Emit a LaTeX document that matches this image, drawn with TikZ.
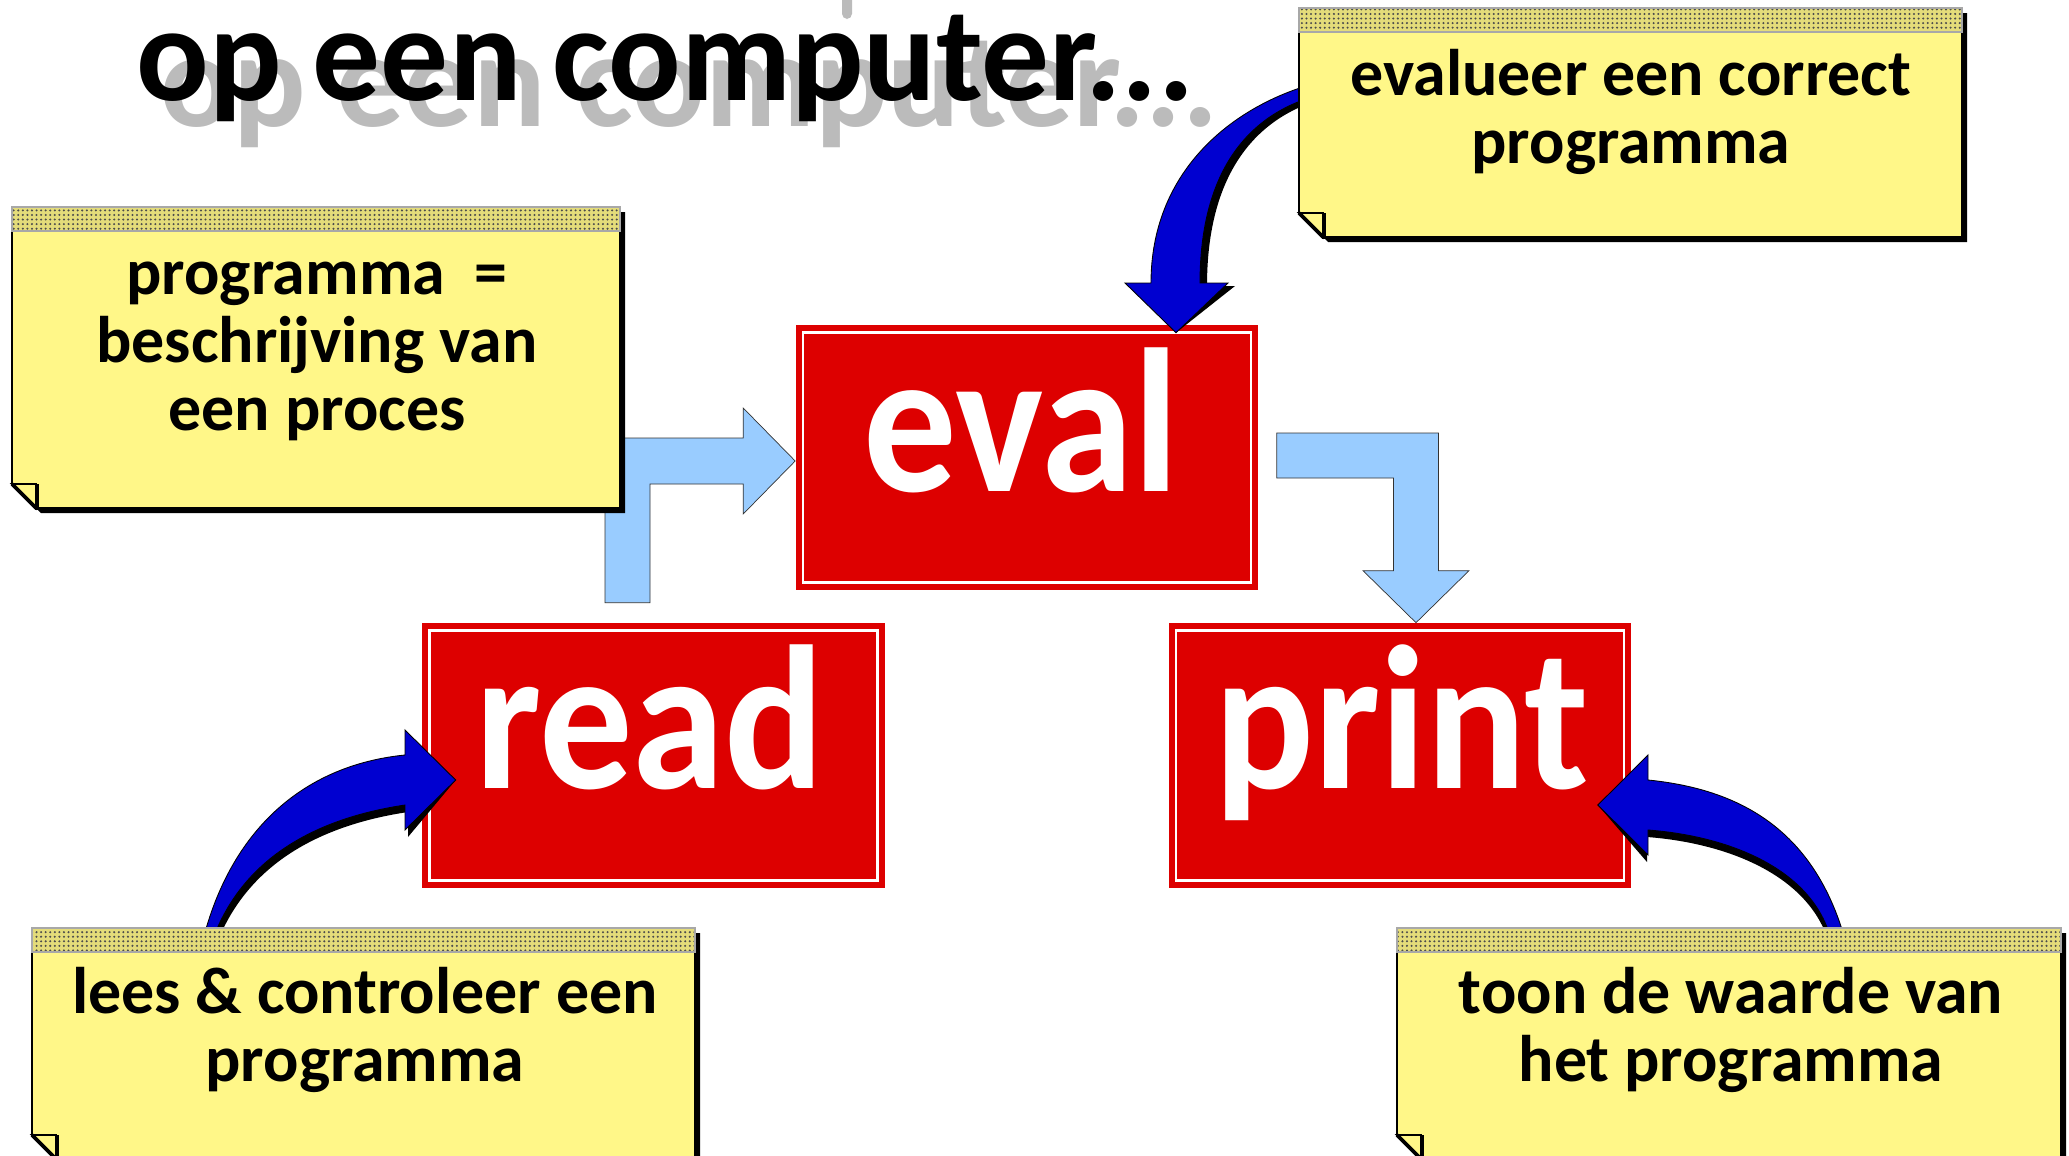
\documentclass[tikz,border=0pt]{standalone}
\usepackage{fontspec}
\usepackage{graphicx}
\setmainfont{Carlito}
\usetikzlibrary{calc,patterns.meta}

\definecolor{boxred}{HTML}{DD0000}
\definecolor{noteyellow}{HTML}{FFF788}
\definecolor{arrowblue}{HTML}{0000D0}
\definecolor{flowblue}{HTML}{99CCFF}
\definecolor{shadowgrey}{HTML}{BBBBBB}
\definecolor{stripebase}{HTML}{E4DC7A}
\definecolor{stripeedge}{HTML}{A8A8A8}

% sticky note: #1 name, #2 left, #3 top of stripe, #4 right, #5 bottom (pixel units, y down)
\newcommand\stickynote[5]{%
  \fill[black] (#2+5,#3+5) -- (#4+5,#3+5) -- (#4+5,#5+5) -- (#2+29,#5+5) -- (#2+5,#5-19) -- cycle;
  \filldraw[notebody] (#2,#3+24) -- (#4,#3+24) -- (#4,#5) -- (#2+24,#5) -- (#2,#5-24) -- cycle;
  \filldraw[notebody] (#2,#5-24) -- (#2+24,#5-24) -- (#2+24,#5) -- cycle;
  \draw[line width=2.2pt] (#2,#5-24) -- (#2+24,#5);
  \draw[line width=2.2pt] (#2+25,#5-24) -- (#2+25,#5+2);
  \fill[stripebase] (#2,#3) rectangle (#4,#3+24);
  \fill[pattern={Dots[distance=2.6pt,radius=0.65pt]}, pattern color=black!70] (#2,#3) rectangle (#4,#3+24);
  \draw[draw=stripeedge, line width=1.1pt] (#2,#3) rectangle (#4,#3+24);
  \coordinate (#1) at ($(#2,#3)!0.5!(#4,#5)$);
}

% outlines of the three bent block arrows
\newcommand\evalArrowPath{(1306,86) .. controls (1229,110) and (1151,173) .. (1151,283)
  -- (1125,283) -- (evalDrop) -- (1228,283) -- (1200,283)
  .. controls (1200,175) and (1245,120) .. (1306,99) -- cycle}
\newcommand\readArrowPath{(204,936) .. controls (233,828) and (305,765) .. (405,755)
  -- (405,730) -- (readIn) -- (405,830) -- (405,805)
  .. controls (315,818.5) and (244.5,858) .. (214,936) -- cycle}
\newcommand\printArrowPath{(1844,936) .. controls (1812,828) and (1738,789) .. (1648,780)
  -- (1648,755) -- (printIn) -- (1648,855) -- (1648,830)
  .. controls (1728,836) and (1810,868) .. (1830,936) -- cycle}

\begin{document}
\begin{tikzpicture}[x=0.02cm, y=-0.02cm,
  stagebox/.style={fill=boxred, draw=none, minimum width=9.26cm, minimum height=5.3cm, inner sep=0pt},
  stagelabel/.style={text=white, font=\fontsize{106}{110}\selectfont\bfseries, inner sep=0pt, anchor=base},
  frameline/.style={draw=white, line width=1.4pt},
  flowarrow/.style={fill=flowblue, draw=black!80, line width=0.4pt, line join=miter},
  bentarrow/.style={fill=arrowblue, draw=black, line width=0.5pt, line join=miter},
  notebody/.style={fill=noteyellow, draw=black, line width=1.1pt, line join=miter},
  notetext/.style={font=\fontsize{37.5}{38.7}\selectfont\bfseries, align=center, inner sep=0pt, anchor=base},
  titletext/.style={font=\fontsize{77}{80}\selectfont\bfseries, inner sep=0pt, anchor=base},
]
\useasboundingbox (0,0) rectangle (2069,1156);
\clip (0,0) rectangle (2069,1156);

% title with its grey drop shadow
\fill[shadowgrey, rounded corners=3] (842,-6) rectangle (852,19);
\node[titletext, text=shadowgrey] (titleshadow) at (689.5,126) {op een computer...};
\node[titletext] (title) at (665.5,100) {op een computer...};

% the three stages
\node[stagebox] (eval)  at (1027,457.5) {};
\node[stagebox] (read)  at (653.5,755.5) {};
\node[stagebox] (print) at (1400,755.5) {};
\foreach \s in {eval,read,print}
  \draw[frameline] ($(\s.north west)+(8,8)$) rectangle ($(\s.south east)+(-8,-8)$);
\node[stagelabel] (evallabel)  at ($(eval.center)+(-6,33.5)$) {\scalebox{1}[1.1]{eval}};
\node[stagelabel] (readlabel)  at ($(read.center)+(-3.5,32.5)$) {\scalebox{1}[1.1]{read}};
\node[stagelabel] (printlabel) at ($(print.center)+(2,32.5)$) {\scalebox{1}[1.1]{print}};

% flow between the stages
\coordinate (readOut)  at ($(read.north)+(-26,-20)$);
\coordinate (evalIn)   at ($(eval.west)+(0,3.5)$);
\coordinate (evalOut)  at ($(eval.east)+(18,-2)$);
\coordinate (printTop) at ($(print.north)+(16,0)$);
\filldraw[flowarrow] ($(readOut)+(-22.5,0)$) |- ($(evalIn)+(-52,-23)$) -- ($(evalIn)+(-52,-53)$)
  -- (evalIn) -- ($(evalIn)+(-52,53)$) -- ($(evalIn)+(-52,23)$) -| ($(readOut)+(22.5,0)$) -- cycle;
\filldraw[flowarrow] ($(evalOut)+(0,-22.5)$) -| ($(printTop)+(22.5,-52)$) -- ($(printTop)+(53,-52)$)
  -- (printTop) -- ($(printTop)+(-53,-52)$) -- ($(printTop)+(-22.5,-52)$) |- ($(evalOut)+(0,22.5)$) -- cycle;

% curved arrows from the notes
\coordinate (evalDrop) at ($(eval.north)+(149,8)$);
\coordinate (readIn)   at ($(read.west)+(34,24.5)$);
\coordinate (printIn)  at ($(print.east)+(-34,49.5)$);
\fill[black, shift={(7,3)}] \evalArrowPath;
\filldraw[bentarrow] \evalArrowPath;
\fill[black, shift={(3,7)}] \readArrowPath;
\filldraw[bentarrow] \readArrowPath;
\fill[black, shift={(-1,7)}] \printArrowPath;
\filldraw[bentarrow] \printArrowPath;

% notes
\stickynote{noteEval}{1299}{8}{1962}{237}
\stickynote{noteProg}{12}{207}{620}{508}
\stickynote{noteRead}{32}{928}{695}{1159}
\stickynote{notePrint}{1397}{928}{2061}{1159}

% note texts, placed by the baseline of their last line
\node[notetext] (evaltext)  at (1631,163)  {evalueer een correct\\programma};
\node[notetext] (progtext)  at (317,430)   {programma\hspace{0.45em}=\\beschrijving van\\een proces};
\node[notetext] (readtext)  at (365,1081)  {lees \& controleer een\\programma};
\node[notetext] (printtext) at (1731,1081) {toon de waarde van\\het programma};
\end{tikzpicture}
\end{document}
